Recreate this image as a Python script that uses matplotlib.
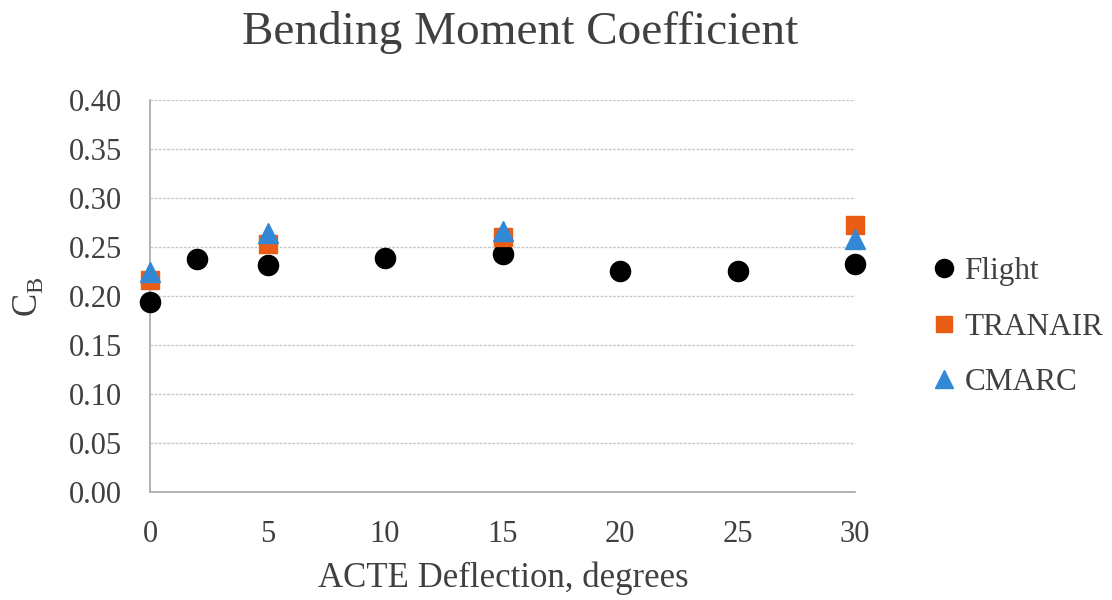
import matplotlib
matplotlib.use("Agg")
import matplotlib.pyplot as plt

plt.rcParams['font.family'] = ['Liberation Serif', 'DejaVu Serif']
plt.rcParams['mathtext.fontset'] = 'custom'
plt.rcParams['mathtext.rm'] = 'Liberation Serif'

flight_x = [0, 2, 5, 10, 15, 20, 25, 30]
flight_y = [0.194, 0.238, 0.232, 0.239, 0.243, 0.226, 0.226, 0.233]
tranair_x = [0, 5, 15, 30]
tranair_y = [0.216, 0.253, 0.260, 0.272]
cmarc_x = [0, 5, 15, 30]
cmarc_y = [0.225, 0.264, 0.266, 0.258]

xticks = [0, 5, 10, 15, 20, 25, 30]
yticks = [0.00, 0.05, 0.10, 0.15, 0.20, 0.25, 0.30, 0.35, 0.40]

TXT = '#404040'

fig = plt.figure(figsize=(11.12, 6.0), dpi=100)
ax = fig.add_axes([150/1112, 108/600, 705/1112, 392/600])

ax.plot(flight_x, flight_y, linestyle='none', marker='o', markersize=14.5,
        color='black', label='Flight', zorder=3, clip_on=False)
ax.plot(tranair_x, tranair_y, linestyle='none', marker='s', markersize=13.5,
        color='#EA5D16', label='TRANAIR', zorder=4, clip_on=False)
ax.plot(cmarc_x, cmarc_y, linestyle='none', marker='^', markersize=14.5,
        color='#3388D6', label='CMARC', zorder=5, clip_on=False)

ax.set_xlim(0, 30)
ax.set_ylim(0, 0.40)
ax.set_xticks(xticks)
ax.set_yticks(yticks)
ax.set_yticklabels([f"{v:.2f}" for v in yticks])
ax.tick_params(axis='both', length=0, labelsize=22, colors=TXT)
ax.tick_params(axis='y', pad=20)
ax.tick_params(axis='x', pad=20)
ax.yaxis.grid(True, color='#C8C8C8', linestyle=(0, (2, 1)), linewidth=1.0)
ax.set_axisbelow(True)
for s in ['top', 'right']:
    ax.spines[s].set_visible(False)
ax.spines['left'].set_color('#A6A6A6')
ax.spines['bottom'].set_color('#A6A6A6')
ax.spines['left'].set_linewidth(1.2)
ax.spines['bottom'].set_linewidth(1.2)

fig.text(503/1112, 1 - 578/600, 'ACTE Deflection, degrees', fontsize=25,
         color=TXT, ha='center', va='center')
fig.text(28/1112, 1 - 297/600, r'C$_\mathregular{B}$', fontsize=25, color=TXT,
         ha='center', va='center', rotation=90)
fig.text(520/1112, 1 - 33/600, 'Bending Moment Coefficient', fontsize=34,
         color=TXT, ha='center', va='center')

legend_handles = ax.get_legend_handles_labels()
ax.legend(*legend_handles, loc='center left', bbox_to_anchor=(1.091, 0.42),
          frameon=False, fontsize=22.5, labelspacing=0.85, handlelength=0.8,
          handletextpad=0.25, borderaxespad=0, labelcolor=TXT, markerscale=0.9)

fig.savefig('out.png', dpi=100)
